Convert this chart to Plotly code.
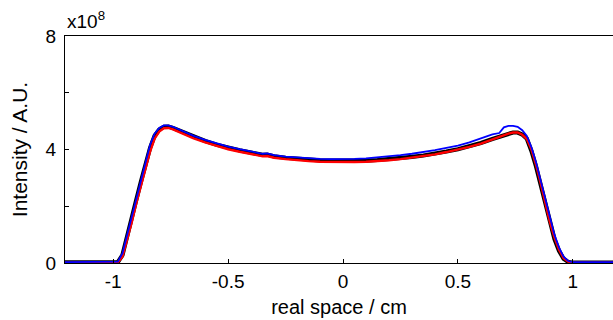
import plotly.graph_objects as go

# Position across the aperture (cm)
x_cm = [-1.21, -1.15, -1.10, -1.05, -1.02, -1.00,
        -0.98, -0.96, -0.94, -0.92, -0.90, -0.88, -0.86, -0.84, -0.82, -0.80,
        -0.78, -0.76, -0.74, -0.72, -0.70,
        -0.65, -0.60, -0.55, -0.50, -0.45, -0.40, -0.35, -0.33, -0.30, -0.25,
        -0.20, -0.15, -0.10, -0.05,
        0.00, 0.05, 0.10, 0.15, 0.20, 0.25, 0.30, 0.35, 0.40, 0.45, 0.50, 0.55,
        0.60, 0.65,
        0.68, 0.70, 0.72, 0.74, 0.76, 0.78, 0.80, 0.82, 0.84, 0.86, 0.88, 0.90,
        0.92, 0.94, 0.96, 0.98, 1.00,
        1.05, 1.10, 1.175]

# Intensity profiles in units of 1e8 (A.U.)
profile_black = [0.02, 0.02, 0.02, 0.02, 0.04, 0.02,
                 0.03, 0.28, 0.88, 1.55, 2.22, 2.85, 3.48, 4.05, 4.48, 4.70,
                 4.80, 4.81, 4.76, 4.69, 4.62,
                 4.44, 4.30, 4.17, 4.06, 3.97, 3.89, 3.81, 3.82, 3.76, 3.71,
                 3.67, 3.64, 3.62, 3.61,
                 3.60, 3.60, 3.61, 3.63, 3.66, 3.70, 3.74, 3.79, 3.85, 3.93, 4.01, 4.11,
                 4.23, 4.37,
                 4.45, 4.51, 4.56, 4.60, 4.60, 4.53, 4.38, 3.95, 3.40, 2.75, 2.05, 1.40,
                 0.85, 0.43, 0.15, 0.04, 0.01,
                 0.01, 0.01, 0.01]

profile_red = [0.01, 0.01, 0.01, 0.01, 0.02, 0.01,
               0.02, 0.22, 0.78, 1.42, 2.10, 2.72, 3.35, 3.92, 4.38, 4.63,
               4.75, 4.76, 4.71, 4.64, 4.57,
               4.39, 4.25, 4.12, 4.01, 3.92, 3.84, 3.76, 3.77, 3.71, 3.66,
               3.62, 3.59, 3.57, 3.56,
               3.56, 3.56, 3.57, 3.59, 3.62, 3.66, 3.71, 3.76, 3.83, 3.91, 3.99, 4.09,
               4.21, 4.36,
               4.45, 4.51, 4.56, 4.60, 4.60, 4.52, 4.37, 4.00, 3.46, 2.82, 2.12, 1.46,
               0.90, 0.47, 0.17, 0.05, 0.01,
               0.01, 0.01, 0.01]

profile_blue = [0.03, 0.03, 0.03, 0.03, 0.03, 0.03,
                0.05, 0.34, 0.98, 1.66, 2.34, 2.97, 3.60, 4.16, 4.56, 4.76,
                4.85, 4.85, 4.80, 4.73, 4.66,
                4.48, 4.34, 4.21, 4.10, 4.01, 3.93, 3.85, 3.86, 3.80, 3.75,
                3.72, 3.69, 3.67, 3.66,
                3.66, 3.67, 3.69, 3.72, 3.76, 3.80, 3.85, 3.91, 3.98, 4.06, 4.14, 4.25,
                4.38, 4.53,
                4.58, 4.78, 4.83, 4.83, 4.80, 4.68, 4.48, 4.08, 3.55, 2.92, 2.24, 1.58,
                1.00, 0.55, 0.22, 0.07, 0.03,
                0.03, 0.03, 0.03]

x_ticks = [-1, -0.5, 0, 0.5, 1]
x_tick_text = ["-1", "-0.5", "0", "0.5", "1"]
y_ticks = [0, 4, 8]
y_tick_text = ["0", "4", "8"]

FONT = "Liberation Sans, Arial, sans-serif"

fig = go.Figure()
fig.add_trace(go.Scatter(x=x_cm, y=profile_black, mode="lines",
                         line=dict(color="black", width=4.2), showlegend=False))
fig.add_trace(go.Scatter(x=x_cm, y=profile_red, mode="lines",
                         line=dict(color="#ff0000", width=2.4), showlegend=False))
fig.add_trace(go.Scatter(x=x_cm, y=profile_blue, mode="lines",
                         line=dict(color="#0000ff", width=1.8), showlegend=False))

fig.update_layout(
    width=613, height=320,
    margin=dict(l=65, r=0, t=36, b=57),
    paper_bgcolor="white", plot_bgcolor="white",
    font=dict(family=FONT, size=19, color="black"),
    xaxis=dict(range=[-1.21, 1.175], tickvals=x_ticks, ticktext=x_tick_text,
               ticks="inside", ticklen=4, tickcolor="black", tickwidth=1,
               showline=True, linecolor="black", linewidth=1, mirror=True,
               showgrid=False, zeroline=False, ticklabelstandoff=1,
               title=dict(text="real space / cm", standoff=9,
                          font=dict(family=FONT, size=20, color="black"))),
    yaxis=dict(range=[0, 8], tickvals=y_ticks, ticktext=y_tick_text,
               ticks="inside", ticklen=4, tickcolor="black", tickwidth=1,
               minor=dict(ticks="inside", ticklen=4, tickcolor="black",
                          tickwidth=1, dtick=2, showgrid=False),
               showline=True, linecolor="black", linewidth=1,
               showgrid=False, zeroline=False, ticklabelstandoff=4,
               title=dict(text="Intensity / A.U.", standoff=12,
                          font=dict(family=FONT, size=21, color="black"))),
    annotations=[dict(text="x10<sup>8</sup>", xref="paper", yref="paper",
                      x=0.0, y=1.0, xanchor="left", yanchor="bottom", yshift=2,
                      showarrow=False, font=dict(family=FONT, size=19))],
)

fig.write_html("out.html")
